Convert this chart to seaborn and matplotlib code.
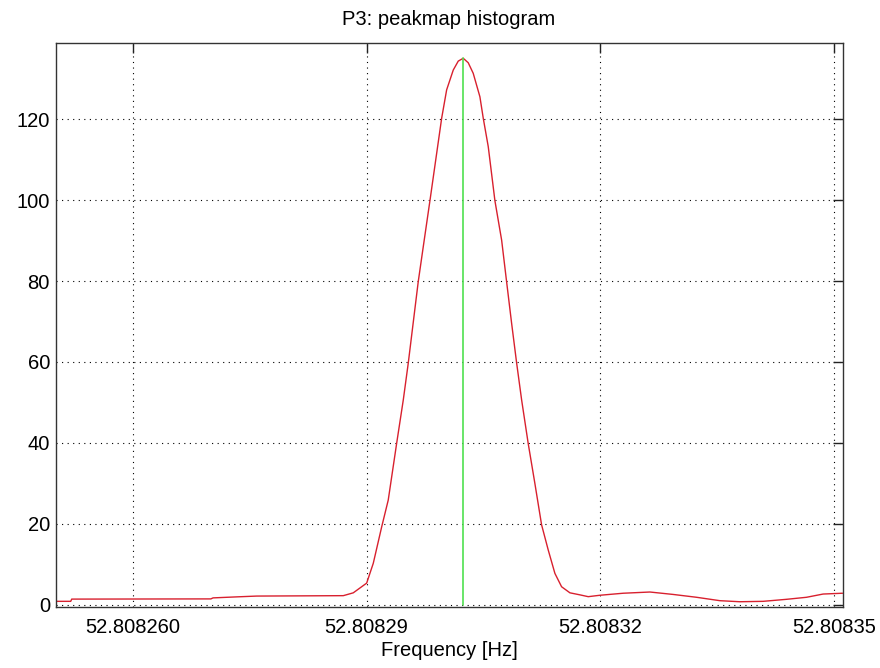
import numpy as np
import pandas as pd
import matplotlib
matplotlib.use("Agg")
import matplotlib.pyplot as plt
import seaborn as sns

# Peakmap histogram around the P3 line
freq_hz = [
    52.80825005, 52.80825200, 52.80825213, 52.80827000, 52.80827027,
    52.80827331, 52.80827588, 52.80828700, 52.80828828, 52.80829000,
    52.80829085, 52.80829193, 52.80829277, 52.80829385, 52.80829470,
    52.80829534, 52.80829662, 52.80829727, 52.80829813, 52.80829963,
    52.80830027, 52.80830112, 52.80830176, 52.80830240, 52.80830304,
    52.80830368, 52.80830454,
    52.80830497, 52.80830561, 52.80830647, 52.80830733, 52.80830797,
    52.80830861, 52.80830926, 52.80830990, 52.80831074, 52.80831160,
    52.80831246, 52.80831331, 52.80831417, 52.80831503, 52.80831610,
    52.80831738, 52.80831845, 52.80831995, 52.80832294, 52.80832637,
    52.80832936, 52.80833236, 52.80833535, 52.80833792, 52.80834091,
    52.80834392, 52.80834648, 52.80834861, 52.80835110,
]
counts = [
    0.9, 0.9, 1.45, 1.5, 1.75,
    2.0, 2.2, 2.3, 3.0, 5.4,
    10.3, 19.3, 25.9, 39.9, 50.6,
    59.7, 79.8, 88.5, 99.9, 120.2,
    127.2, 132.1, 134.3, 135.0, 133.9,
    131.3, 125.5,
    120.2, 113.2, 99.8, 90.1, 79.8,
    69.6, 59.7, 50.6, 39.9, 30.0,
    19.8, 13.6, 7.8, 4.5, 3.0,
    2.5, 2.05, 2.4, 2.9, 3.2,
    2.6, 1.9, 1.06, 0.8, 0.9,
    1.4, 1.9, 2.7, 2.9,
]

# Marker for the histogram maximum
peak_freq = [52.80830240, 52.80830240]
peak_level = [0.0, 135.0]

xtick_values = [52.80826, 52.80829, 52.80832, 52.80835]
xtick_labels = ["52.808260", "52.80829", "52.80832", "52.80835"]
ytick_values = [0, 20, 40, 60, 80, 100, 120]

sns.set_style("white")
plt.rcParams["font.family"] = ["Liberation Sans", "DejaVu Sans"]
plt.rcParams["text.color"] = "black"
plt.rcParams["axes.labelcolor"] = "black"

fig = plt.figure(figsize=(8.8, 6.68), dpi=100)
ax = fig.add_axes([0.0631, 0.0918, 0.8943, 0.8434])

hist_df = pd.DataFrame({"freq": freq_hz, "count": counts})
peak_df = pd.DataFrame({"freq": peak_freq, "count": peak_level})

sns.lineplot(data=hist_df, x="freq", y="count", ax=ax, color="#d8202e",
             linewidth=1.0, estimator=None, sort=False)
sns.lineplot(data=peak_df, x="freq", y="count", ax=ax, color="#4fe04f",
             linewidth=1.2, estimator=None, sort=False)

ax.set_xlim(52.80825005, 52.8083511)
ax.set_ylim(-0.42, 138.7)
ax.set_xticks(xtick_values, labels=xtick_labels)
ax.set_yticks(ytick_values, labels=[str(v) for v in ytick_values])

ax.grid(True, color="black", linestyle=(0, (1, 4)), linewidth=0.8)
ax.set_axisbelow(True)
for side in ax.spines.values():
    side.set_color("#333333")
    side.set_linewidth(1.0)

ax.tick_params(axis="both", direction="in", length=7, width=1.0,
               color="#222222", top=True, right=True, labelsize=14.5,
               labelcolor="black")
ax.tick_params(axis="x", pad=8)
ax.tick_params(axis="y", pad=4)

ax.set_xlabel("Frequency [Hz]", fontsize=14.5, labelpad=3, color="black")
ax.set_ylabel("")
ax.set_title("P3: peakmap histogram", fontsize=14.5, pad=13, color="black")

fig.savefig("out.png", dpi=100)
